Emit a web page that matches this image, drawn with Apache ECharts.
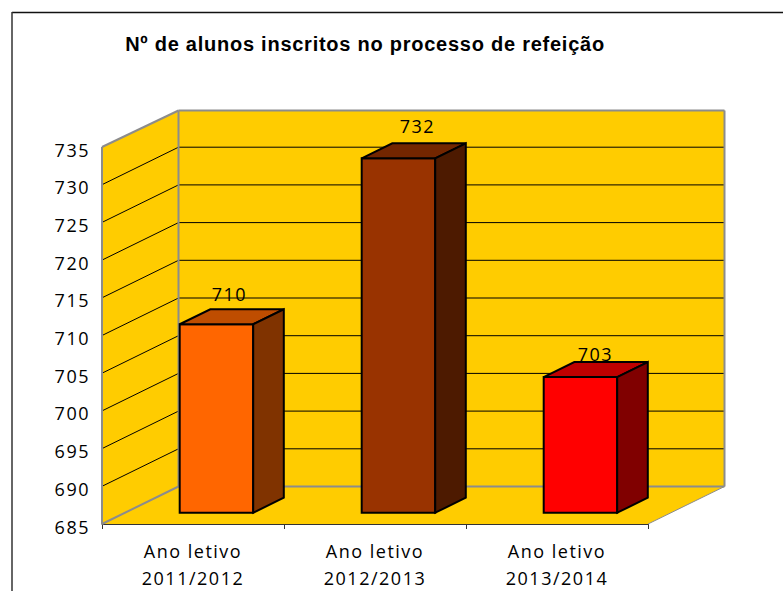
<!DOCTYPE html>
<html>
<head>
<meta charset="utf-8">
<script src="https://cdn.jsdelivr.net/npm/echarts@6/dist/echarts.min.js"></script>
<style>
html, body { margin: 0; padding: 0; background: #fff; overflow: hidden; }
#chart { width: 783px; height: 591px; }
/* the original text is spaced out a bit */
#chart text { letter-spacing: 1.5px; font-family: "Open Sans", sans-serif !important; }
#chart text[style*="bold"] { letter-spacing: 0.75px; font-family: "Liberation Sans", sans-serif !important; }
</style>
</head>
<body>
<div id="chart"></div>
<script>
//----------------------Data----------------------
let categories = ["Ano letivo\n2011/2012", "Ano letivo\n2012/2013", "Ano letivo\n2013/2014"];
let values = [710, 732, 703];
let y_min = 685;
let y_max = 735;
let y_step = 5;
let y_ticks = [690, 695, 700, 705, 710, 715, 720, 725, 730];
//---------------------Styles---------------------
let front_colors = ["#FF6600", "#993300", "#FF0000"];
let top_colors = ["#BF4D00", "#732600", "#BF0000"];
let side_colors = ["#803300", "#4D1A00", "#800000"];
let label_nudge = [[13, -30], [19, -32], [15, -23]];
let wall_color = "#FFCC00";
let edge_color = "#8C8C8C";
let font_name = "Open Sans";
// depth of the box, in pixels
let depth_x = 76.5;
let depth_y = -37.5;
// the top edge of the back wall sits slightly lower
let top_inset = 1;
// bar sits between these fractions of the depth
let bar_near = 0.3;
let bar_far = 0.7;
let bar_width = 73.5;

let chart = echarts.init(document.getElementById("chart"), null, {renderer: "svg"});

function poly(points, fill, stroke, width) {
    return {
        type: "polygon",
        shape: {points: points},
        style: {fill: fill, stroke: stroke || null, lineWidth: width || 0, lineJoin: "miter"}
    };
}

function seg(x1, y1, x2, y2, stroke, width) {
    return {
        type: "line",
        shape: {x1: x1, y1: y1, x2: x2, y2: y2},
        style: {stroke: stroke, lineWidth: width}
    };
}

// side wall, back wall, floor and their grid lines
function render_walls(params, api) {
    let cs = params.coordSys;
    let l = cs.x, r = cs.x + cs.width, t = cs.y, b = cs.y + cs.height;
    let back_t = t + depth_y + top_inset;
    let back_l = l + depth_x, back_r = r + depth_x, back_b = b + depth_y;
    let kids = [
        poly([[l, t], [back_l, back_t], [back_l, back_b], [l, b]], wall_color),
        poly([[back_l, back_t], [back_r, back_t], [back_r, back_b], [back_l, back_b]], wall_color),
        poly([[l, b], [back_l, back_b], [back_r, back_b], [r, b]], wall_color)
    ];
    y_ticks.forEach(function (v) {
        let y = api.coord([0, v])[1];
        kids.push(seg(l, y, back_l, y + depth_y, "#000", 1));
        kids.push(seg(back_l, y + depth_y, back_r, y + depth_y, "#000", 1));
    });
    kids.push(seg(l, t, l, b, edge_color, 2));
    kids.push(seg(l, t, back_l, back_t, edge_color, 2));
    kids.push(seg(back_l, back_t, back_r, back_t, edge_color, 2));
    kids.push(seg(back_l, back_t, back_l, back_b, edge_color, 2));
    kids.push(seg(back_r, back_t, back_r, back_b, edge_color, 2));
    kids.push(seg(l, b, back_l, back_b, edge_color, 2));
    kids.push(seg(back_l, back_b, back_r, back_b, edge_color, 2));
    kids.push(seg(r, b, back_r, back_b, edge_color, 1));
    return {type: "group", children: kids};
}

function render_bar(params, api) {
    let i = api.value(0);
    let top_pt = api.coord([i, api.value(1)]);
    let base_pt = api.coord([i, y_min]);
    let ox = depth_x * bar_near, oy = depth_y * bar_near;
    let dx = depth_x * (bar_far - bar_near), dy = depth_y * (bar_far - bar_near);
    let x0 = top_pt[0] + ox - bar_width / 2 + 0.5;
    let x1 = x0 + bar_width;
    let y0 = top_pt[1] + oy;
    let y1 = base_pt[1] + oy;
    return {
        type: "group",
        children: [
            poly([[x0, y0], [x1, y0], [x1, y1], [x0, y1]], front_colors[i], "#000", 2),
            poly([[x0, y0], [x0 + dx, y0 + dy], [x1 + dx, y0 + dy], [x1, y0]], top_colors[i], "#000", 2),
            poly([[x1, y0], [x1 + dx, y0 + dy], [x1 + dx, y1 + dy], [x1, y1]], side_colors[i], "#000", 2),
            {
                type: "text",
                style: {
                    text: String(api.value(1)),
                    x: (x0 + x1) / 2 + label_nudge[i][0],
                    y: y0 + label_nudge[i][1],
                    align: "center",
                    verticalAlign: "middle",
                    fill: "#000",
                    font: "18px " + font_name
                }
            }
        ]
    };
}

let bar_data = values.map(function (v, i) { return [i, v]; });

let option = {
    animation: false,
    backgroundColor: "#fff",
    title: {
        text: "Nº de alunos inscritos no processo de refeição",
        left: 360,
        top: 29,
        textAlign: "center",
        textStyle: {
            color: "#000",
            fontFamily: "Liberation Sans",
            fontWeight: "bold",
            fontSize: 20
        }
    },
    graphic: [
        {
            type: "line",
            silent: true,
            shape: {x1: 12, y1: 12.5, x2: 783, y2: 12.5},
            style: {stroke: "#111", lineWidth: 1.5}
        },
        {
            type: "line",
            silent: true,
            shape: {x1: 12, y1: 12, x2: 12, y2: 591},
            style: {stroke: "#333", lineWidth: 1.5}
        }
    ],
    grid: {left: 102, right: 135, top: 147, bottom: 66},
    xAxis: {
        type: "category",
        data: categories,
        axisLine: {lineStyle: {color: "#333", width: 1}},
        axisTick: {show: true, length: 5, lineStyle: {color: "#333"}},
        axisLabel: {
            color: "#000",
            fontFamily: font_name,
            fontSize: 18,
            lineHeight: 27,
            margin: 13,
            interval: 0
        }
    },
    yAxis: {
        type: "value",
        min: y_min,
        max: y_max,
        interval: y_step,
        axisLine: {show: false},
        axisTick: {show: false},
        splitLine: {show: false},
        axisLabel: {
            color: "#000",
            fontFamily: font_name,
            fontSize: 18,
            margin: 12,
            verticalAlign: "top",
            lineHeight: 5
        }
    },
    series: [
        {
            type: "custom",
            renderItem: render_walls,
            clip: false,
            silent: true,
            z: 1,
            data: [[0, y_min]]
        },
        {
            type: "custom",
            renderItem: render_bar,
            clip: false,
            z: 3,
            encode: {x: 0, y: 1},
            data: bar_data
        }
    ]
};
chart.setOption(option, true);
</script>
</body>
</html>
